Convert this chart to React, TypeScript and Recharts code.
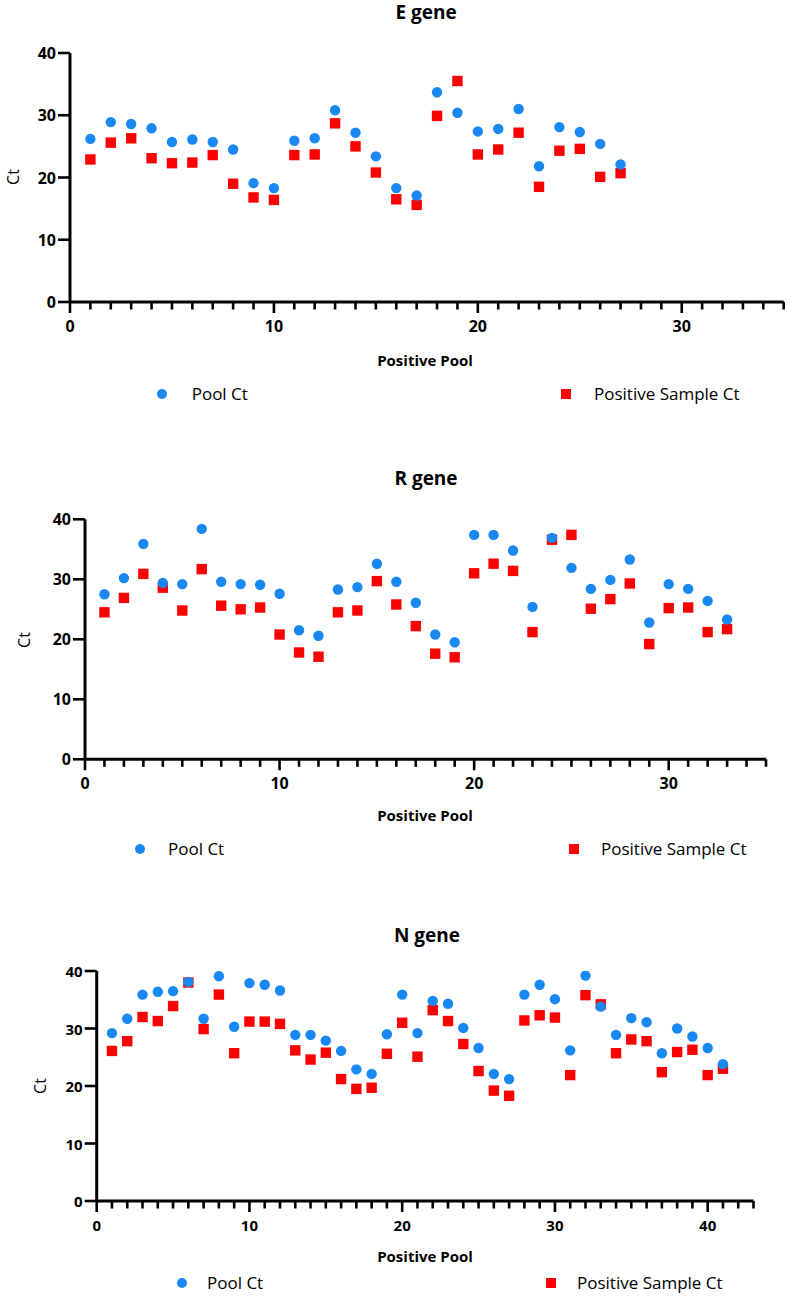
import React from "react";
import { ScatterChart, Scatter, XAxis, YAxis } from "recharts";

// Ct values, pool number = position in array (1-based)
const ePoolCt = [26.2, 28.9, 28.6, 27.9, 25.7, 26.1, 25.7, 24.5, 19.1, 18.3, 25.9, 26.3, 30.8, 27.2, 23.4, 18.3, 17.1, 33.7, 30.4, 27.4, 27.8, 31.0, 21.8, 28.1, 27.3, 25.4, 22.1];
const eSampleCt = [22.9, 25.6, 26.3, 23.1, 22.3, 22.4, 23.6, 19.0, 16.8, 16.4, 23.6, 23.7, 28.7, 25.0, 20.8, 16.5, 15.6, 29.9, 35.5, 23.7, 24.5, 27.2, 18.5, 24.3, 24.6, 20.1, 20.7];

const rPoolCt = [27.5, 30.2, 35.9, 29.4, 29.2, 38.4, 29.6, 29.2, 29.1, 27.6, 21.5, 20.6, 28.3, 28.7, 32.6, 29.6, 26.1, 20.8, 19.5, 37.4, 37.4, 34.8, 25.4, 36.9, 31.9, 28.4, 29.9, 33.3, 22.8, 29.2, 28.4, 26.4, 23.3];
const rSampleCt = [24.5, 26.9, 30.9, 28.6, 24.8, 31.7, 25.6, 25.0, 25.3, 20.8, 17.8, 17.1, 24.5, 24.8, 29.7, 25.8, 22.2, 17.6, 17.0, 31.0, 32.6, 31.4, 21.2, 36.6, 37.4, 25.1, 26.7, 29.3, 19.2, 25.2, 25.3, 21.2, 21.7];

const nPoolCt = [29.2, 31.7, 35.9, 36.4, 36.5, 38.1, 31.7, 39.1, 30.3, 37.9, 37.6, 36.6, 28.9, 28.9, 27.9, 26.1, 22.9, 22.1, 29.0, 35.9, 29.2, 34.8, 34.3, 30.1, 26.6, 22.1, 21.2, 35.9, 37.6, 35.1, 26.2, 39.2, 33.8, 28.9, 31.8, 31.1, 25.7, 30.0, 28.6, 26.6, 23.8];
const nSampleCt = [26.1, 27.8, 32.0, 31.3, 33.9, 38.0, 29.9, 35.9, 25.7, 31.2, 31.2, 30.8, 26.2, 24.6, 25.8, 21.2, 19.5, 19.7, 25.6, 31.0, 25.1, 33.2, 31.3, 27.3, 22.6, 19.2, 18.3, 31.4, 32.3, 31.9, 21.9, 35.8, 34.2, 25.7, 28.1, 27.8, 22.4, 25.9, 26.3, 21.9, 23.0];

const yTicks = [0, 10, 20, 30, 40];
const ticksTo = (max: number) => Array.from({ length: max + 1 }, (_, i) => i);
const eXTicks = ticksTo(35);
const rXTicks = ticksTo(35);
const nXTicks = ticksTo(43);

const BLUE = "#1a88f2";
const RED = "#ff0000";
const FONT = "'Open Sans', sans-serif";

const toPoints = (cts: number[]) => cts.map((ct, i) => ({ pool: i + 1, ct }));

function Txt({ x, y, size, bold, anchor = "middle", rotate, children }: any) {
  const tx = anchor === "middle" ? "-50%" : anchor === "end" ? "-100%" : "0";
  return (
    <div
      style={{
        position: "absolute",
        left: x,
        top: y,
        transform: `translate(${tx}, -50%)` + (rotate ? ` rotate(${rotate}deg)` : ""),
        fontFamily: FONT,
        fontSize: size,
        fontWeight: bold ? 700 : 400,
        lineHeight: 1.2,
        whiteSpace: "nowrap",
        color: "#000",
      }}
    >
      {children}
    </div>
  );
}

function GeneChart({ title, pool, sample, xTicks, xMax, top, height, plot, fontSize, text }: any) {
  const poolPts = toPoints(pool);
  const samplePts = toPoints(sample);

  const xTick = (p: any) => {
    const major = p.payload.value % 10 === 0;
    return (
      <g>
        <line x1={p.x} x2={p.x} y1={p.y} y2={p.y + (major ? 11 : 7.5)} stroke="#000" strokeWidth={2.6} />
        {major && (
          <text x={p.x} y={p.y + 24} textAnchor="middle" dominantBaseline="central" fontFamily={FONT} fontWeight={700} fontSize={fontSize} fill="#000">
            {p.payload.value}
          </text>
        )}
      </g>
    );
  };

  const yTick = (p: any) => (
    <g>
      <line x1={p.x - 12} x2={p.x} y1={p.y} y2={p.y} stroke="#000" strokeWidth={2.6} />
      <text x={p.x - 14} y={p.y} textAnchor="end" dominantBaseline="central" fontFamily={FONT} fontWeight={700} fontSize={fontSize} fill="#000">
        {p.payload.value}
      </text>
    </g>
  );

  return (
    <>
      <div style={{ position: "absolute", left: 0, top }}>
        <ScatterChart
          width={787}
          height={height}
          margin={{ top: plot.top, right: 787 - plot.right, bottom: 0, left: 0 }}
        >
          <XAxis
            type="number"
            dataKey="pool"
            domain={[0, xMax]}
            ticks={xTicks}
            interval={0}
            height={height - plot.bottom}
            tickSize={0}
            tickMargin={0}
            tickLine={false}
            tick={xTick}
            axisLine={{ stroke: "#000", strokeWidth: 3 }}
            allowDataOverflow
          />
          <YAxis
            type="number"
            dataKey="ct"
            domain={[0, 40]}
            ticks={yTicks}
            interval={0}
            width={plot.left}
            tickSize={0}
            tickMargin={0}
            tickLine={false}
            tick={yTick}
            axisLine={{ stroke: "#000", strokeWidth: 3 }}
            allowDataOverflow
          />
          <Scatter
            name="Positive Sample Ct"
            data={samplePts}
            isAnimationActive={false}
            shape={(p: any) => <rect x={p.cx - 5.2} y={p.cy - 5.2} width={10.4} height={10.4} fill={RED} />}
          />
          <Scatter
            name="Pool Ct"
            data={poolPts}
            isAnimationActive={false}
            shape={(p: any) => <circle cx={p.cx} cy={p.cy} r={5.2} fill={BLUE} />}
          />
        </ScatterChart>
      </div>
      <Txt x={text.title[0]} y={text.title[1]} size={19} bold>{title}</Txt>
      <Txt x={text.ct[0]} y={text.ct[1]} size={16} rotate={-90}>Ct</Txt>
      <Txt x={text.xLabel[0]} y={text.xLabel[1]} size={15} bold>Positive Pool</Txt>
      <div
        style={{
          position: "absolute",
          left: text.dot[0] - 5,
          top: text.legendY - 5,
          width: 10,
          height: 10,
          borderRadius: "50%",
          background: BLUE,
        }}
      />
      <Txt x={text.dot[1]} y={text.legendY} size={17} anchor="start">Pool Ct</Txt>
      <div
        style={{
          position: "absolute",
          left: text.square[0] - 5,
          top: text.legendY - 5,
          width: 10,
          height: 10,
          background: RED,
        }}
      />
      <Txt x={text.square[1]} y={text.legendY} size={17} anchor="start">Positive Sample Ct</Txt>
    </>
  );
}

export default function App() {
  return (
    <div style={{ position: "absolute", left: 0, top: 0, width: 787, height: 1298, background: "#fff", overflow: "hidden" }}>
      <GeneChart
        title="E gene"
        pool={ePoolCt}
        sample={eSampleCt}
        xTicks={eXTicks}
        xMax={35}
        top={0}
        height={340}
        plot={{ top: 53, bottom: 302, left: 70, right: 783.7 }}
        fontSize={16}
        text={{ title: [426, 12], ct: [14, 177], xLabel: [425, 360], legendY: 394, dot: [161.7, 191.7], square: [566, 594] }}
      />
      <GeneChart
        title="R gene"
        pool={rPoolCt}
        sample={rSampleCt}
        xTicks={rXTicks}
        xMax={35}
        top={460}
        height={340}
        plot={{ top: 59.3, bottom: 299.3, left: 85, right: 766 }}
        fontSize={16}
        text={{ title: [426, 478], ct: [25, 640], xLabel: [425, 815], legendY: 849, dot: [140, 168], square: [574, 601] }}
      />
      <GeneChart
        title="N gene"
        pool={nPoolCt}
        sample={nSampleCt}
        xTicks={nXTicks}
        xMax={43}
        top={920}
        height={330}
        plot={{ top: 51, bottom: 281, left: 96.7, right: 753.5 }}
        fontSize={15}
        text={{ title: [427, 935], ct: [41, 1086], xLabel: [425, 1256], legendY: 1283, dot: [182, 207], square: [551, 577] }}
      />
    </div>
  );
}
